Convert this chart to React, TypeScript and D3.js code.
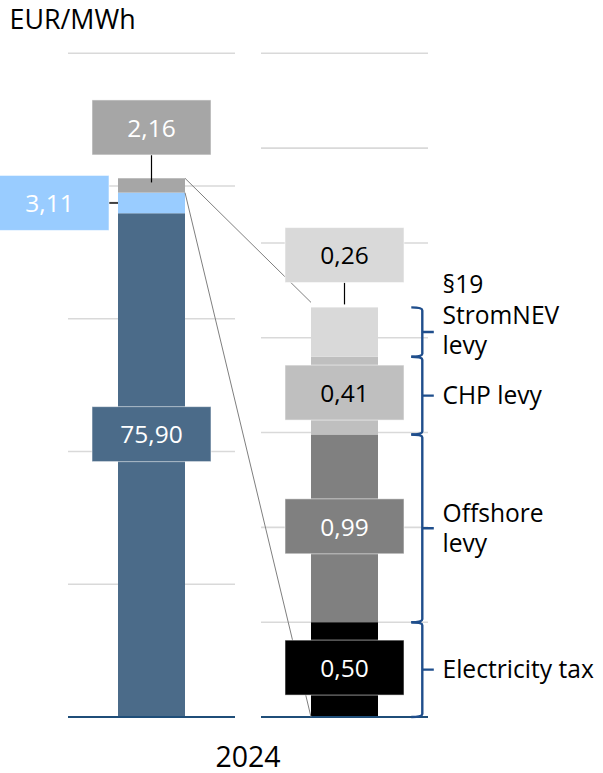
import React from "react";
import * as d3 from "d3";

const W = 603;
const H = 773;

const unitLabel = "EUR/MWh";
const yearLabel = "2024";
const barGroups = ["total", "levies"];

const totalSegments = ["Other components", "Surcharges", "Levies"];
const totalValues = [75.9, 3.11, 2.16];
const totalColors = ["#4b6b89", "#99ccff", "#a6a6a6"];
const totalTextColors = ["#ffffff", "#ffffff", "#ffffff"];

const leviesSegments = ["Electricity tax", "Offshore levy", "CHP levy", "§19 StromNEV levy"];
const leviesLabelLines = [["Electricity tax"], ["Offshore", "levy"], ["CHP levy"], ["§19", "StromNEV", "levy"]];
const leviesValues = [0.5, 0.99, 0.41, 0.26];
const leviesColors = ["#000000", "#808080", "#bfbfbf", "#d9d9d9"];
const leviesTextColors = ["#ffffff", "#ffffff", "#000000", "#000000"];

const totalTicks = [0, 20, 40, 60, 80, 100];
const leviesTicks = [0, 0.5, 1, 1.5, 2, 2.5, 3, 3.5];

// layout (pixel offsets of the data label boxes relative to their segment)
const totalLabelDx = [0, -102, 0];
const totalLabelDy = [-31, 0, -58];
const leviesLabelDy = [-2, -2, -3, -77];
const leviesTextDy = [0, 0, 0, -17];

const FONT = "'Open Sans', 'Noto Sans', sans-serif";
const fmt = (v: number) => d3.format(".2f")(v).replace(".", ",");

function stack(values: number[]) {
  let acc = 0;
  return values.map((v) => {
    const s = { y0: acc, y1: acc + v, v };
    acc += v;
    return s;
  });
}

export default function App() {
  const yTop = 53.3;
  const yBase = 717;
  const yL = d3.scaleLinear().domain([0, 100]).range([yBase, yTop]);
  const yR = d3.scaleLinear().domain([0, 3.5]).range([yBase, yTop]);
  const xC = d3.scalePoint<string>().domain(barGroups).range([151.5, 344.5]);
  const barW = 67;
  const gridHalf = 83.5;
  const boxW = 119;
  const boxH = 55;

  const cL = xC("total")!;
  const cR = xC("levies")!;

  const sL = stack(totalValues);
  const sR = stack(leviesValues);
  const totalSum = d3.sum(totalValues);
  const leviesSum = d3.sum(leviesValues);

  const bracketX = 422.3;

  return (
    <svg
      width={W}
      height={H}
      style={{ position: "absolute", left: 0, top: 0, background: "#fff" }}
      fontFamily={FONT}
    >
      <text x={9.5} y={28.5} fontSize={26.8} fill="#000">
        {unitLabel}
      </text>

      {/* gridlines */}
      {totalTicks.slice(1).map((t) => (
        <line key={"gl" + t} x1={cL - gridHalf} x2={cL + gridHalf} y1={yL(t)} y2={yL(t)} stroke="#d9d9d9" strokeWidth={1.6} />
      ))}
      {leviesTicks.slice(1).map((t) => (
        <line key={"gr" + t} x1={cR - gridHalf} x2={cR + gridHalf} y1={yR(t)} y2={yR(t)} stroke="#d9d9d9" strokeWidth={1.6} />
      ))}

      {/* bars */}
      {sL.map((s, i) => (
        <rect key={"bl" + i} x={cL - barW / 2} width={barW} y={yL(s.y1)} height={yL(s.y0) - yL(s.y1)} fill={totalColors[i]} />
      ))}
      {sR.map((s, i) => (
        <rect key={"br" + i} x={cR - barW / 2} width={barW} y={yR(s.y1)} height={yR(s.y0) - yR(s.y1)} fill={leviesColors[i]} />
      ))}

      {/* baselines */}
      <line x1={cL - gridHalf} x2={cL + gridHalf} y1={yL(0)} y2={yL(0)} stroke="#1f4e79" strokeWidth={2} />
      <line x1={cR - gridHalf} x2={cR + gridHalf} y1={yR(0)} y2={yR(0)} stroke="#1f4e79" strokeWidth={2} />

      {/* zoom connector lines */}
      <line x1={cL + barW / 2} y1={yL(totalSum)} x2={cR - barW / 2} y2={yR(leviesSum) - 5} stroke="#7f7f7f" strokeWidth={1} />
      <line
        x1={cL + barW / 2}
        y1={yL(totalSum - totalValues[2])}
        x2={cR - barW / 2}
        y2={yR(0)}
        stroke="#7f7f7f"
        strokeWidth={1}
      />

      {/* leader lines */}
      {(() => {
        const s1 = sL[1];
        const cy1 = (yL(s1.y0) + yL(s1.y1)) / 2 + totalLabelDy[1];
        const s2 = sL[2];
        const cy2 = (yL(s2.y0) + yL(s2.y1)) / 2 + totalLabelDy[2];
        const s3 = sR[3];
        const cy3 = (yR(s3.y0) + yR(s3.y1)) / 2 + leviesLabelDy[3];
        return (
          <g stroke="#000" strokeWidth={1.2}>
            <line x1={cL + totalLabelDx[1] + boxW / 2} x2={cL - barW / 2} y1={cy1} y2={cy1} stroke="#404040" strokeWidth={2} />
            <line x1={cL} x2={cL} y1={cy2 + boxH / 2} y2={(yL(s2.y0) + yL(s2.y1)) / 2 - 3} />
            <line x1={cR} x2={cR} y1={cy3 + boxH / 2} y2={yR(s3.y1) - 3} />
          </g>
        );
      })()}

      {/* data labels: total bar */}
      {sL.map((s, i) => {
        const cx = cL + totalLabelDx[i];
        const cy = (yL(s.y0) + yL(s.y1)) / 2 + totalLabelDy[i];
        return (
          <g key={"ll" + i}>
            <rect x={cx - boxW / 2} y={cy - boxH / 2} width={boxW} height={boxH} fill={totalColors[i]} stroke="rgba(255,255,255,0.55)" strokeWidth={1} />
            <text x={cx} y={cy + 9.3} textAnchor="middle" fontSize={24.5} fill={totalTextColors[i]}>
              {fmt(s.v)}
            </text>
          </g>
        );
      })}

      {/* data labels: levies bar */}
      {sR.map((s, i) => {
        const cx = cR;
        const cy = (yR(s.y0) + yR(s.y1)) / 2 + leviesLabelDy[i];
        return (
          <g key={"lr" + i}>
            <rect x={cx - boxW / 2} y={cy - boxH / 2} width={boxW} height={boxH} fill={leviesColors[i]} stroke="rgba(255,255,255,0.55)" strokeWidth={1} />
            <text x={cx} y={cy + 9.3} textAnchor="middle" fontSize={24.5} fill={leviesTextColors[i]}>
              {fmt(s.v)}
            </text>
          </g>
        );
      })}

      {/* brackets */}
      {sR.map((s, i) => {
        const top = yR(s.y1);
        const bot = yR(s.y0);
        const mid = (top + bot) / 2;
        const lines = leviesLabelLines[i];
        const lh = 30.5;
        const firstBase = mid + 8.8 - ((lines.length - 1) / 2) * lh + leviesTextDy[i];
        return (
          <g key={"bk" + i}>
            <path
              d={`M${bracketX - 11},${top} Q${bracketX},${top} ${bracketX},${top + 3} L${bracketX},${bot - 3} Q${bracketX},${bot} ${bracketX - 11},${bot} M${bracketX},${mid} L${bracketX + 11.5},${mid}`}
              fill="none"
              stroke="#1f4e8c"
              strokeWidth={2.4}
            />
            <text x={442.5} fontSize={24.6} fill="#000">
              {lines.map((ln, j) => (
                <tspan key={j} x={442.5} y={firstBase + j * lh}>
                  {ln}
                </tspan>
              ))}
            </text>
          </g>
        );
      })}

      <text x={(cL + cR) / 2} y={766.5} textAnchor="middle" fontSize={28.5} fill="#000">
        {yearLabel}
      </text>
    </svg>
  );
}
